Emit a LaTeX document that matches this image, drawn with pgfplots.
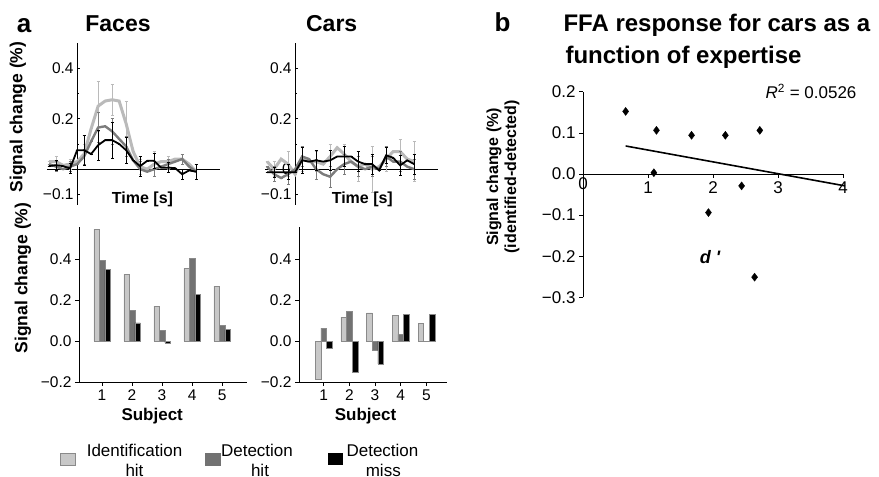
\documentclass[border=0pt]{standalone}
\usepackage{fontspec}
\setmainfont{Liberation Sans}[Ligatures=TeXOff]
\usepackage{pgfplots}
\usepackage{pgfplotstable}
\pgfplotsset{compat=1.18}
\definecolor{idline}{HTML}{BABABA}
\definecolor{detline}{HTML}{7C7C7C}
\definecolor{idbar}{HTML}{C8C8C8}
\definecolor{detbar}{HTML}{727272}
\definecolor{baredge}{HTML}{8A8A8A}
\newcommand{\fsz}[1]{\fontsize{#1}{#1}\selectfont}

% time courses (t in s, 0 = onset); errors shown every 2 s
\pgfplotstableread{
t   id     ide   det    dete  miss   misse
-4  0.030  0     0.020  0     0.012  0
-3  0.030  0.02  0.010  0.02  0.016  0.02
-2  0.015  0     0.000  0     0.012  0
-1  0.020  0.02  0.010  0.02  0.003  0.02
0   0.030  0     0.020  0     0.075  0
1   0.060  0.04  0.050  0.03  0.075  0.06
2   0.160  0     0.110  0     0.060  0
3   0.250  0.10  0.165  0.06  0.095  0.06
4   0.270  0     0.170  0     0.115  0
5   0.275  0.06  0.150  0.05  0.115  0.07
6   0.270  0     0.120  0     0.100  0
7   0.180  0.09  0.090  0.04  0.075  0.05
8   0.070  0     0.035  0     0.035  0
9   0.010  0.03  0.000  0.03  0.012  0.04
10  0.000  0     -0.010 0     0.033  0
11  0.020  0.05  0.000  0.03  0.033  0.03
12  0.030  0     0.010  0     0.006  0
13  0.030  0.02  0.020  0.02  0.006  0.02
14  0.040  0     0.030  0     0.004  0
15  0.040  0.02  0.040  0.02  -0.020 0.02
16  0.020  0     0.010  0     -0.005 0
17  -0.010 0.03  -0.010 0.03  -0.010 0.03
}\facetc
\pgfplotstableread{
t   id     ide   det    dete  miss   misse
-4  0.030  0     0.010  0     -0.012 0
-3  0.000  0.03  -0.020 0.03  -0.012 0.02
-2  0.040  0     -0.035 0     -0.012 0
-1  0.020  0.05  -0.020 0.04  -0.012 0.03
0   -0.020 0     0.000  0     -0.012 0
1   0.040  0.05  0.050  0.04  0.035  0.05
2   0.030  0     0.040  0     0.030  0
3   0.030  0.04  0.000  0.04  0.035  0.04
4   0.020  0     -0.020 0     0.030  0
5   0.050  0.05  -0.030 0.04  0.035  0.04
6   0.085  0     0.000  0     0.050  0
7   0.060  0.04  0.020  0.04  0.050  0.04
8   0.030  0     0.030  0     0.050  0
9   0.010  0.06  0.010  0.04  0.030  0.04
10  0.020  0     0.000  0     0.020  0
11  0.000  0.09  0.010  0.04  0.020  0.04
12  0.010  0     0.000  0     -0.005 0
13  0.040  0.05  0.050  0.04  0.055  0.03
14  0.070  0     0.030  0     0.045  0
15  0.070  0.05  0.030  0.04  0.015  0.04
16  0.040  0     0.010  0     0.035  0
17  0.030  0.08  0.000  0.04  0.020  0.04
}\carstc

% per-subject amplitudes
\pgfplotstableread{
s  id     det    miss
1  0.549  0.397  0.352
2  0.328  0.150  0.090
3  0.172  0.052  -0.008
4  0.357  0.407  0.228
5  0.270  0.077  0.057
}\facebars
\pgfplotstableread{
s  id     det    miss
1  -0.185 0.064  -0.034
2  0.118  0.146  -0.152
3  0.139  -0.043 -0.111
4  0.126  0.033  0.131
5  0.089  0.000  0.131
}\carbars

% d' vs identified-detected
\pgfplotstableread{
d     diff
0.656 0.152
1.13  0.106
1.09  0.003
1.67  0.094
2.19  0.094
2.72  0.106
2.44  -0.029
1.93  -0.094
2.64  -0.251
}\expert

\pgfplotsset{
  every axis/.append style={scale only axis,
    tick label style={font=\fsz{15.5}},
    tick style={black,line width=0.6pt}},
  tc/.style={width=173pt,height=162pt,xmin=-4.3,xmax=20.4,ymin=-0.142,ymax=0.5,
    axis lines=middle,axis line style={-,line width=0.9pt},
    xtick=\empty,minor ytick={0.1,0.3},tick align=inside,
    major tick length=3pt,minor tick length=2pt,clip=false},
  errs/.style={error bars/.cd,y dir=both,y explicit,
    error bar style={line width=0.6pt,#1},
    error mark options={rotate=90,mark size=1.6pt,line width=0.6pt,#1}},
  bars/.style={height=155pt,ymin=-0.2,ymax=0.56,
    axis lines=left,axis line style={-,line width=0.9pt},
    ybar=0pt,xtick={1,2,3,4,5},xticklabels={1,2,3,4,5},
    ytick={-0.2,0,0.2,0.4},yticklabels={−0.2,0.0,0.2,0.4},
    tick align=outside,major tick length=4pt},
}

\begin{document}
\begin{tikzpicture}[x=1pt,y=1pt]
\path[use as bounding box] (0,0) rectangle (879,477);

% ---- faces time course
\begin{axis}[tc,at={(47pt,272pt)},anchor=south west,
  ytick={-0.1,0.2,0.4},yticklabels={−0.1,0.2,0.4}]
\addplot[idline,line width=3pt,errs=idline] table[x=t,y=id,y error=ide]{\facetc};
\addplot[detline,line width=2.4pt,errs=detline] table[x=t,y=det,y error=dete]{\facetc};
\addplot[black,line width=1.8pt,errs=black] table[x=t,y=miss,y error=misse]{\facetc};
\end{axis}

% ---- cars time course
\begin{axis}[tc,at={(265pt,272pt)},anchor=south west,
  ytick={-0.1,0.2,0.4},yticklabels={−0.1,0.2,0.4}]
\node[anchor=east,font=\fsz{15.5},inner sep=2pt] at (axis cs:-0.3,0) {0};
\addplot[idline,line width=3pt,errs=idline] table[x=t,y=id,y error=ide]{\carstc};
\addplot[detline,line width=2.4pt,errs=detline] table[x=t,y=det,y error=dete]{\carstc};
\addplot[black,line width=1.8pt,errs=black] table[x=t,y=miss,y error=misse]{\carstc};
\end{axis}

% ---- faces bars
\begin{axis}[bars,at={(79pt,95pt)},anchor=south west,width=168pt,
  xmin=0.233,xmax=5.83,bar width=5.5pt]
\addplot[fill=idbar,draw=baredge,line width=0.5pt] table[x=s,y=id]{\facebars};
\addplot[fill=detbar,draw=baredge,line width=0.5pt] table[x=s,y=det]{\facebars};
\addplot[fill=black,draw=baredge,line width=0.5pt] table[x=s,y=miss]{\facebars};
\end{axis}

% ---- cars bars
\begin{axis}[bars,at={(299pt,95pt)},anchor=south west,width=148pt,
  xmin=0.04,xmax=5.8,bar width=5.6pt]
\addplot[fill=idbar,draw=baredge,line width=0.5pt] table[x=s,y=id]{\carbars};
\addplot[fill=detbar,draw=baredge,line width=0.5pt] table[x=s,y=det]{\carbars};
\addplot[fill=black,draw=baredge,line width=0.5pt] table[x=s,y=miss]{\carbars};
\end{axis}

% ---- panel b
\begin{axis}[at={(583pt,179.7pt)},anchor=south west,width=260pt,height=205.6pt,
  xmin=0,xmax=4,ymin=-0.3,ymax=0.2,
  axis x line=middle,axis y line=left,
  axis line style={-,line width=0.8pt},
  xtick={1,2,3,4},xticklabels={1,2,3,4},
  extra x ticks={0},extra x tick labels={0},
  extra x tick style={major tick length=0pt},
  ytick={-0.3,-0.2,-0.1,0,0.1,0.2},
  yticklabels={−0.3,−0.2,−0.1,0.0,0.1,0.2},
  tick align=outside,major tick length=4pt,
  tick label style={font=\fsz{17}},clip=false]
\addplot[only marks,mark=diamond*,mark size=4pt,black] table[x=d,y=diff]{\expert};
\addplot[black,line width=1.6pt] coordinates {(0.656,0.068) (4.03,-0.029)};
\end{axis}

% ---- text
\node[anchor=base,font=\fsz{26}\bfseries] at (24,444.7) {a};
\node[anchor=base,font=\fsz{26}\bfseries] at (502.5,445.3) {b};
\node[anchor=base,font=\fsz{23}\bfseries] at (118,445.3) {Faces};
\node[anchor=base,font=\fsz{23}\bfseries] at (331.7,445.3) {Cars};
\node[anchor=base,font=\fsz{16}\bfseries] at (142.5,273.7) {Time [s]};
\node[anchor=base,font=\fsz{16}\bfseries] at (362.3,273.7) {Time [s]};
\node[anchor=base,font=\fsz{17}\bfseries] at (152.2,56.3) {Subject};
\node[anchor=base,font=\fsz{17}\bfseries] at (365.5,56.3) {Subject};
\node[rotate=90,font=\fsz{17.5}\bfseries] at (18,360) {Signal change (\%)};
\node[rotate=90,font=\fsz{17.5}\bfseries] at (23,199) {Signal change (\%)};
\node[anchor=base west,font=\fsz{24}\bfseries] at (560,445.3) {FFA response for cars as a};
\node[anchor=base west,font=\fsz{24}\bfseries] at (562,413) {function of expertise};
\node[rotate=90,font=\fsz{16}\bfseries,align=center] at (503,300)
  {Signal change (\%)\\[2pt](identified-detected)};
\node[anchor=base east,font=\fsz{17}] at (860,378.7) {\textit{R}\textsuperscript{2} = 0.0526};
\node[anchor=base,font=\fsz{18}\bfseries\itshape] at (710,213.7) {d '};

% ---- legend
\filldraw[fill=idbar,draw=baredge] (60,12) rectangle (75,24);
\filldraw[fill=detbar,draw=detbar] (205,11.5) rectangle (220,24);
\fill[black] (328,11.5) rectangle (343,24);
\node[anchor=base,font=\fsz{17}] at (134.5,20.3) {Identification};
\node[anchor=base,font=\fsz{17}] at (134.5,0.5) {hit};
\node[anchor=base,font=\fsz{17}] at (257,20.3) {Detection};
\node[anchor=base,font=\fsz{17}] at (260,0.5) {hit};
\node[anchor=base,font=\fsz{17}] at (382.5,20.3) {Detection};
\node[anchor=base,font=\fsz{17}] at (383.3,0.5) {miss};
\end{tikzpicture}
\end{document}
